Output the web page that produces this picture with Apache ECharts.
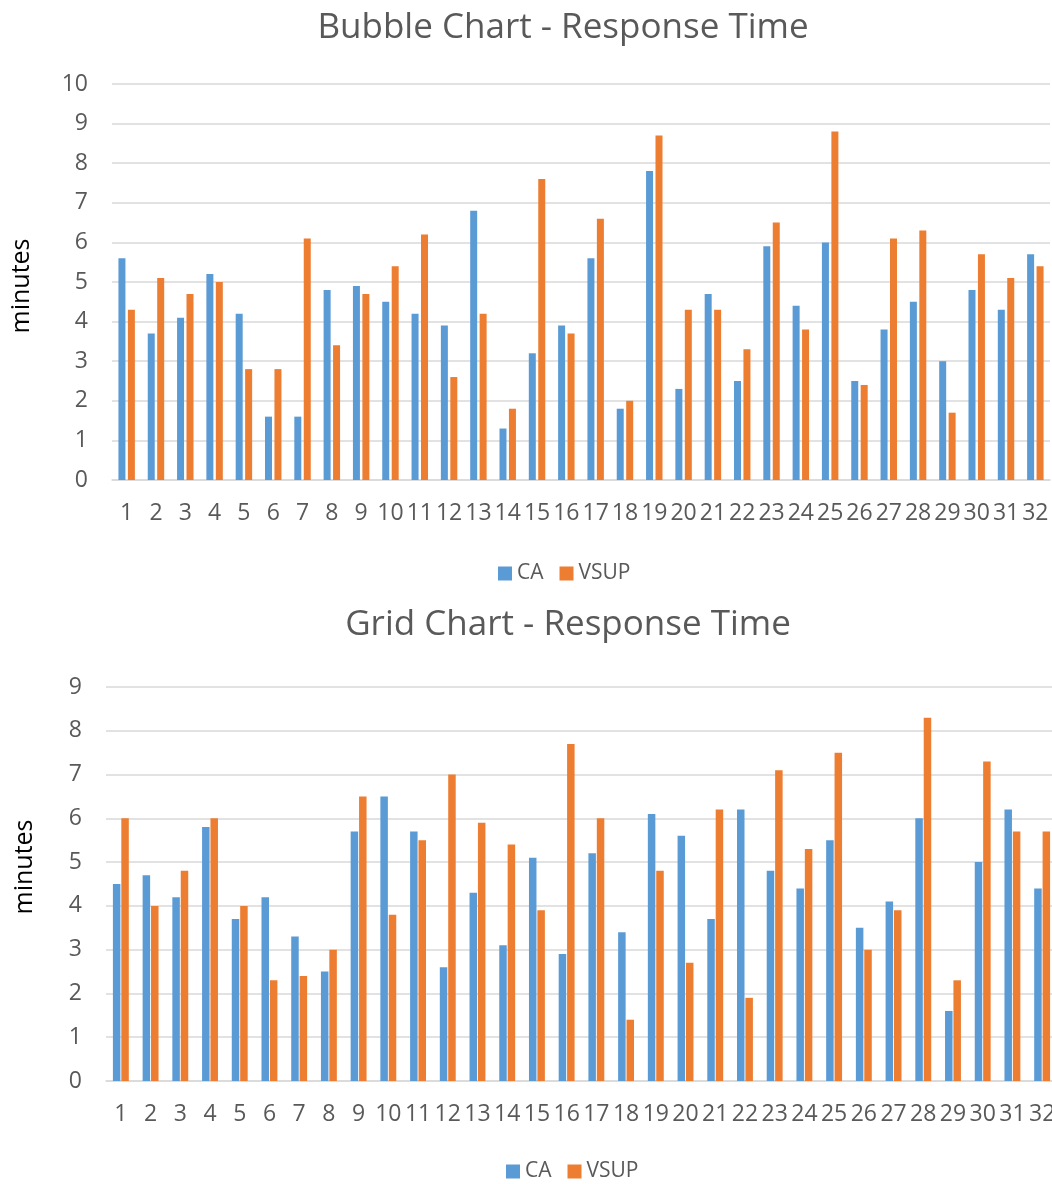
<!DOCTYPE html>
<html>
<head>
<meta charset="utf-8">
<script src="https://cdn.jsdelivr.net/npm/echarts@6/dist/echarts.min.js"></script>
<style>
  html, body { margin: 0; padding: 0; background: #ffffff; }
  #chart { width: 1052px; height: 1184px; }
</style>
</head>
<body>
<div id="chart"></div>
<script>
// Participants 1..32
const categories = Array.from({ length: 32 }, (_, i) => String(i + 1));

// Bubble chart response times (minutes)
const bubbleCA   = [5.6, 3.7, 4.1, 5.2, 4.2, 1.6, 1.6, 4.8, 4.9, 4.5, 4.2, 3.9, 6.8, 1.3, 3.2, 3.9,
                    5.6, 1.8, 7.8, 2.3, 4.7, 2.5, 5.9, 4.4, 6.0, 2.5, 3.8, 4.5, 3.0, 4.8, 4.3, 5.7];
const bubbleVSUP = [4.3, 5.1, 4.7, 5.0, 2.8, 2.8, 6.1, 3.4, 4.7, 5.4, 6.2, 2.6, 4.2, 1.8, 7.6, 3.7,
                    6.6, 2.0, 8.7, 4.3, 4.3, 3.3, 6.5, 3.8, 8.8, 2.4, 6.1, 6.3, 1.7, 5.7, 5.1, 5.4];

// Grid chart response times (minutes)
const gridCA   = [4.5, 4.7, 4.2, 5.8, 3.7, 4.2, 3.3, 2.5, 5.7, 6.5, 5.7, 2.6, 4.3, 3.1, 5.1, 2.9,
                  5.2, 3.4, 6.1, 5.6, 3.7, 6.2, 4.8, 4.4, 5.5, 3.5, 4.1, 6.0, 1.6, 5.0, 6.2, 4.4];
const gridVSUP = [6.0, 4.0, 4.8, 6.0, 4.0, 2.3, 2.4, 3.0, 6.5, 3.8, 5.5, 7.0, 5.9, 5.4, 3.9, 7.7,
                  6.0, 1.4, 4.8, 2.7, 6.2, 1.9, 7.1, 5.3, 7.5, 3.0, 3.9, 8.3, 2.3, 7.3, 5.7, 5.7];

const seriesNames = ['CA', 'VSUP'];
const titles = ['Bubble Chart - Response Time', 'Grid Chart - Response Time'];
const yAxisName = 'minutes';

const BLUE = '#5B9BD5';
const ORANGE = '#ED7D31';
const TEXT = '#595959';
const GRIDLINE = '#d9d9d9';
const FONT = "'Open Sans', 'DejaVu Sans', sans-serif";

const chart = echarts.init(document.getElementById('chart'), null, { renderer: 'canvas' });

function xAxisFor(gridIndex) {
  return {
    type: 'category',
    gridIndex,
    data: categories,
    axisLine: { show: true, lineStyle: { color: GRIDLINE, width: 1.5 } },
    axisTick: { show: false },
    axisLabel: { interval: 0, color: TEXT, fontSize: 23, fontFamily: FONT, margin: 22 },
    splitLine: { show: false }
  };
}

function yAxisFor(gridIndex, max) {
  return {
    type: 'value',
    gridIndex,
    min: 0,
    max,
    interval: 1,
    axisLine: { show: false },
    axisTick: { show: false },
    axisLabel: { color: TEXT, fontSize: 23, fontFamily: FONT, margin: 24 },
    splitLine: { show: true, lineStyle: { color: GRIDLINE, width: 1.5 } }
  };
}

function barSeries(name, data, color, idx, barWidth, barGap) {
  return {
    type: 'bar',
    name,
    data,
    xAxisIndex: idx,
    yAxisIndex: idx,
    barWidth,
    barGap,
    itemStyle: { color },
    emphasis: { disabled: true },
    animation: false
  };
}

function legendAt(left, top) {
  return {
    data: seriesNames,
    left,
    top,
    icon: 'rect',
    itemWidth: 14,
    itemHeight: 14,
    itemGap: 16,
    textStyle: { color: TEXT, fontSize: 21, fontFamily: FONT },
    selectedMode: false
  };
}

function textLabel(text, x, y, size, color, rotation) {
  return {
    type: 'text',
    x,
    y,
    rotation: rotation || 0,
    silent: true,
    style: {
      text,
      fill: color,
      font: size + 'px ' + FONT,
      textAlign: 'center',
      textVerticalAlign: 'middle'
    }
  };
}

chart.setOption({
  backgroundColor: '#ffffff',
  animation: false,
  grid: [
    { left: 112, top: 84, width: 938, height: 396, outerBoundsMode: 'none' },
    { left: 106, top: 687, width: 951, height: 394, outerBoundsMode: 'none' }
  ],
  xAxis: [xAxisFor(0), xAxisFor(1)],
  yAxis: [yAxisFor(0, 10), yAxisFor(1, 9)],
  legend: [legendAt(493, 558), legendAt(501, 1156)],
  series: [
    barSeries(seriesNames[0], bubbleCA, BLUE, 0, 7, '35%'),
    barSeries(seriesNames[1], bubbleVSUP, ORANGE, 0, 7, '35%'),
    barSeries(seriesNames[0], gridCA, BLUE, 1, 7.5, '12%'),
    barSeries(seriesNames[1], gridVSUP, ORANGE, 1, 7.5, '12%')
  ],
  graphic: [
    textLabel(titles[0], 563, 28, 35, TEXT),
    textLabel(titles[1], 568, 625, 35, TEXT),
    textLabel(yAxisName, 22, 286, 25, '#000000', Math.PI / 2),
    textLabel(yAxisName, 25, 867, 25, '#000000', Math.PI / 2)
  ]
});
</script>
</body>
</html>
